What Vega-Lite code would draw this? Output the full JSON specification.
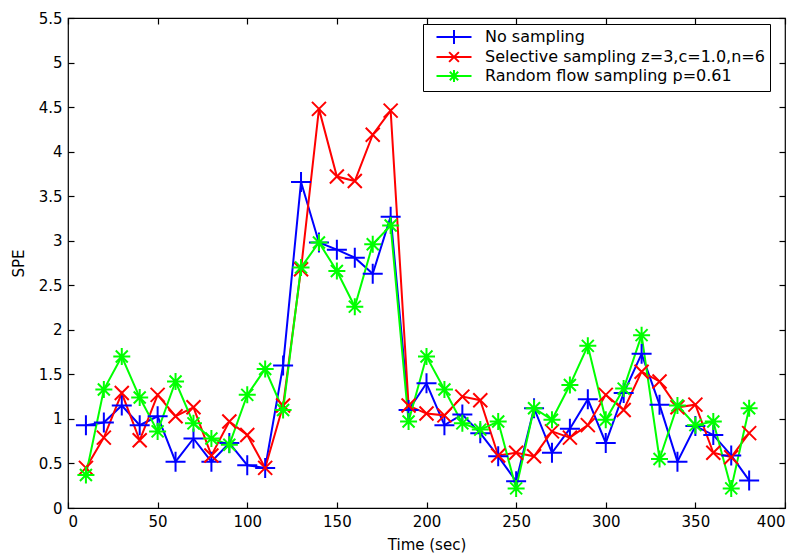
{
  "$schema": "https://vega.github.io/schema/vega-lite/v6.json",
  "width": 717,
  "height": 490,
  "autosize": {"type": "none"},
  "padding": {"left": 68, "top": 18, "right": 18, "bottom": 45},
  "background": "white",
  "config": {
    "font": "DejaVu Sans",
    "view": {"stroke": "black", "strokeWidth": 1.2},
    "axis": {
      "grid": false,
      "domain": false,
      "offset": -6,
      "tickColor": "black",
      "tickWidth": 1.2,
      "labelColor": "black",
      "titleColor": "black",
      "labelFontSize": 15,
      "titleFontSize": 15,
      "titleFontWeight": "normal",
      "tickSize": 6,
      "labelPadding": 6,
      "zindex": 1
    }
  },
  "datasets": {
    "spe": [
      {"t": 10, "s": "No sampling", "v": 0.93}, {"t": 20, "s": "No sampling", "v": 0.96}, {"t": 30, "s": "No sampling", "v": 1.15}, {"t": 40, "s": "No sampling", "v": 0.93}, {"t": 50, "s": "No sampling", "v": 1.03}, {"t": 60, "s": "No sampling", "v": 0.52}, {"t": 70, "s": "No sampling", "v": 0.78}, {"t": 80, "s": "No sampling", "v": 0.52}, {"t": 90, "s": "No sampling", "v": 0.73}, {"t": 100, "s": "No sampling", "v": 0.48}, {"t": 110, "s": "No sampling", "v": 0.45}, {"t": 120, "s": "No sampling", "v": 1.6}, {"t": 130, "s": "No sampling", "v": 3.66}, {"t": 140, "s": "No sampling", "v": 2.98}, {"t": 150, "s": "No sampling", "v": 2.9}, {"t": 160, "s": "No sampling", "v": 2.81}, {"t": 170, "s": "No sampling", "v": 2.63}, {"t": 180, "s": "No sampling", "v": 3.27}, {"t": 190, "s": "No sampling", "v": 1.1}, {"t": 200, "s": "No sampling", "v": 1.4}, {"t": 210, "s": "No sampling", "v": 0.93}, {"t": 220, "s": "No sampling", "v": 1.05}, {"t": 230, "s": "No sampling", "v": 0.84}, {"t": 240, "s": "No sampling", "v": 0.58}, {"t": 250, "s": "No sampling", "v": 0.3}, {"t": 260, "s": "No sampling", "v": 1.12}, {"t": 270, "s": "No sampling", "v": 0.62}, {"t": 280, "s": "No sampling", "v": 0.89}, {"t": 290, "s": "No sampling", "v": 1.22}, {"t": 300, "s": "No sampling", "v": 0.73}, {"t": 310, "s": "No sampling", "v": 1.29}, {"t": 320, "s": "No sampling", "v": 1.73}, {"t": 330, "s": "No sampling", "v": 1.16}, {"t": 340, "s": "No sampling", "v": 0.52}, {"t": 350, "s": "No sampling", "v": 0.92}, {"t": 360, "s": "No sampling", "v": 0.82}, {"t": 370, "s": "No sampling", "v": 0.59}, {"t": 380, "s": "No sampling", "v": 0.31},
      {"t": 10, "s": "Selective sampling z=3,c=1.0,n=6", "v": 0.45}, {"t": 20, "s": "Selective sampling z=3,c=1.0,n=6", "v": 0.79}, {"t": 30, "s": "Selective sampling z=3,c=1.0,n=6", "v": 1.29}, {"t": 40, "s": "Selective sampling z=3,c=1.0,n=6", "v": 0.76}, {"t": 50, "s": "Selective sampling z=3,c=1.0,n=6", "v": 1.27}, {"t": 60, "s": "Selective sampling z=3,c=1.0,n=6", "v": 1.03}, {"t": 70, "s": "Selective sampling z=3,c=1.0,n=6", "v": 1.13}, {"t": 80, "s": "Selective sampling z=3,c=1.0,n=6", "v": 0.59}, {"t": 90, "s": "Selective sampling z=3,c=1.0,n=6", "v": 0.97}, {"t": 100, "s": "Selective sampling z=3,c=1.0,n=6", "v": 0.82}, {"t": 110, "s": "Selective sampling z=3,c=1.0,n=6", "v": 0.45}, {"t": 120, "s": "Selective sampling z=3,c=1.0,n=6", "v": 1.15}, {"t": 130, "s": "Selective sampling z=3,c=1.0,n=6", "v": 2.68}, {"t": 140, "s": "Selective sampling z=3,c=1.0,n=6", "v": 4.48}, {"t": 150, "s": "Selective sampling z=3,c=1.0,n=6", "v": 3.72}, {"t": 160, "s": "Selective sampling z=3,c=1.0,n=6", "v": 3.67}, {"t": 170, "s": "Selective sampling z=3,c=1.0,n=6", "v": 4.19}, {"t": 180, "s": "Selective sampling z=3,c=1.0,n=6", "v": 4.46}, {"t": 190, "s": "Selective sampling z=3,c=1.0,n=6", "v": 1.15}, {"t": 200, "s": "Selective sampling z=3,c=1.0,n=6", "v": 1.06}, {"t": 210, "s": "Selective sampling z=3,c=1.0,n=6", "v": 1.04}, {"t": 220, "s": "Selective sampling z=3,c=1.0,n=6", "v": 1.25}, {"t": 230, "s": "Selective sampling z=3,c=1.0,n=6", "v": 1.21}, {"t": 240, "s": "Selective sampling z=3,c=1.0,n=6", "v": 0.59}, {"t": 250, "s": "Selective sampling z=3,c=1.0,n=6", "v": 0.62}, {"t": 260, "s": "Selective sampling z=3,c=1.0,n=6", "v": 0.58}, {"t": 270, "s": "Selective sampling z=3,c=1.0,n=6", "v": 0.86}, {"t": 280, "s": "Selective sampling z=3,c=1.0,n=6", "v": 0.79}, {"t": 290, "s": "Selective sampling z=3,c=1.0,n=6", "v": 0.93}, {"t": 300, "s": "Selective sampling z=3,c=1.0,n=6", "v": 1.27}, {"t": 310, "s": "Selective sampling z=3,c=1.0,n=6", "v": 1.1}, {"t": 320, "s": "Selective sampling z=3,c=1.0,n=6", "v": 1.53}, {"t": 330, "s": "Selective sampling z=3,c=1.0,n=6", "v": 1.42}, {"t": 340, "s": "Selective sampling z=3,c=1.0,n=6", "v": 1.13}, {"t": 350, "s": "Selective sampling z=3,c=1.0,n=6", "v": 1.16}, {"t": 360, "s": "Selective sampling z=3,c=1.0,n=6", "v": 0.62}, {"t": 370, "s": "Selective sampling z=3,c=1.0,n=6", "v": 0.57}, {"t": 380, "s": "Selective sampling z=3,c=1.0,n=6", "v": 0.84},
      {"t": 10, "s": "Random flow sampling p=0.61", "v": 0.37}, {"t": 20, "s": "Random flow sampling p=0.61", "v": 1.33}, {"t": 30, "s": "Random flow sampling p=0.61", "v": 1.7}, {"t": 40, "s": "Random flow sampling p=0.61", "v": 1.24}, {"t": 50, "s": "Random flow sampling p=0.61", "v": 0.86}, {"t": 60, "s": "Random flow sampling p=0.61", "v": 1.42}, {"t": 70, "s": "Random flow sampling p=0.61", "v": 0.95}, {"t": 80, "s": "Random flow sampling p=0.61", "v": 0.78}, {"t": 90, "s": "Random flow sampling p=0.61", "v": 0.71}, {"t": 100, "s": "Random flow sampling p=0.61", "v": 1.27}, {"t": 110, "s": "Random flow sampling p=0.61", "v": 1.56}, {"t": 120, "s": "Random flow sampling p=0.61", "v": 1.1}, {"t": 130, "s": "Random flow sampling p=0.61", "v": 2.7}, {"t": 140, "s": "Random flow sampling p=0.61", "v": 2.98}, {"t": 150, "s": "Random flow sampling p=0.61", "v": 2.66}, {"t": 160, "s": "Random flow sampling p=0.61", "v": 2.26}, {"t": 170, "s": "Random flow sampling p=0.61", "v": 2.96}, {"t": 180, "s": "Random flow sampling p=0.61", "v": 3.17}, {"t": 190, "s": "Random flow sampling p=0.61", "v": 0.97}, {"t": 200, "s": "Random flow sampling p=0.61", "v": 1.7}, {"t": 210, "s": "Random flow sampling p=0.61", "v": 1.33}, {"t": 220, "s": "Random flow sampling p=0.61", "v": 0.95}, {"t": 230, "s": "Random flow sampling p=0.61", "v": 0.88}, {"t": 240, "s": "Random flow sampling p=0.61", "v": 0.97}, {"t": 250, "s": "Random flow sampling p=0.61", "v": 0.22}, {"t": 260, "s": "Random flow sampling p=0.61", "v": 1.12}, {"t": 270, "s": "Random flow sampling p=0.61", "v": 0.99}, {"t": 280, "s": "Random flow sampling p=0.61", "v": 1.38}, {"t": 290, "s": "Random flow sampling p=0.61", "v": 1.82}, {"t": 300, "s": "Random flow sampling p=0.61", "v": 0.99}, {"t": 310, "s": "Random flow sampling p=0.61", "v": 1.34}, {"t": 320, "s": "Random flow sampling p=0.61", "v": 1.94}, {"t": 330, "s": "Random flow sampling p=0.61", "v": 0.55}, {"t": 340, "s": "Random flow sampling p=0.61", "v": 1.15}, {"t": 350, "s": "Random flow sampling p=0.61", "v": 0.93}, {"t": 360, "s": "Random flow sampling p=0.61", "v": 0.97}, {"t": 370, "s": "Random flow sampling p=0.61", "v": 0.22}, {"t": 380, "s": "Random flow sampling p=0.61", "v": 1.12}
    ]
  },
  "data": {"name": "spe"},
  "resolve": {"axis": {"x": "independent", "y": "independent"}},
  "layer": [
    {
      "mark": {"type": "line", "strokeWidth": 2},
      "encoding": {
        "x": {"field": "t", "type": "quantitative", "scale": {"domain": [0, 400], "nice": false}, "axis": {"title": "Time (sec)", "values": [0, 50, 100, 150, 200, 250, 300, 350, 400], "titlePadding": 8}},
        "y": {"field": "v", "type": "quantitative", "scale": {"domain": [0, 5.5], "nice": false}, "axis": {"title": "SPE", "format": "~g", "values": [0, 0.5, 1, 1.5, 2, 2.5, 3, 3.5, 4, 4.5, 5, 5.5], "titlePadding": 12}},
        "color": {"field": "s", "type": "nominal", "scale": {"domain": ["No sampling", "Selective sampling z=3,c=1.0,n=6", "Random flow sampling p=0.61"], "range": ["#0000ff", "#ff0000", "#00ff00"]}, "legend": {
          "orient": "none", "legendX": 355, "legendY": 6, "title": null,
          "strokeColor": "black", "fillColor": "white", "padding": 5,
          "labelFontSize": 16, "labelColor": "black", "labelLimit": 500, "labelExpr": "datum.label + '\u00a0\u00a0'",
          "symbolSize": 196, "symbolStrokeWidth": 2,
          "symbolOffset": 18, "labelOffset": 23, "rowPadding": 0
        }},
        "order": {"field": "t"}
      }
    },
    {
      "transform": [{"filter": "datum.s == 'No sampling'"}],
      "mark": {"type": "point", "filled": false, "strokeWidth": 2, "opacity": 1, "size": 400, "shape": "M-1,0H1M0,-1V1"},
      "encoding": {
        "x": {"field": "t", "type": "quantitative", "axis": {"orient": "top", "labels": false, "title": null, "values": [0, 50, 100, 150, 200, 250, 300, 350, 400]}},
        "y": {"field": "v", "type": "quantitative", "axis": {"orient": "right", "labels": false, "title": null, "values": [0, 0.5, 1, 1.5, 2, 2.5, 3, 3.5, 4, 4.5, 5, 5.5]}},
        "color": {"field": "s", "type": "nominal"}
      }
    },
    {
      "transform": [{"filter": "datum.s == 'Selective sampling z=3,c=1.0,n=6'"}],
      "mark": {"type": "point", "filled": false, "strokeWidth": 2, "opacity": 1, "size": 400, "shape": "M-0.7,-0.7L0.7,0.7M-0.7,0.7L0.7,-0.7"},
      "encoding": {
        "x": {"field": "t", "type": "quantitative", "axis": null},
        "y": {"field": "v", "type": "quantitative", "axis": null},
        "color": {"field": "s", "type": "nominal"}
      }
    },
    {
      "transform": [{"filter": "datum.s == 'Random flow sampling p=0.61'"}],
      "mark": {"type": "point", "filled": false, "strokeWidth": 2, "opacity": 1, "size": 400, "shape": "M-0.85,0H0.85M0,-0.85V0.85M-0.6,-0.6L0.6,0.6M-0.6,0.6L0.6,-0.6"},
      "encoding": {
        "x": {"field": "t", "type": "quantitative", "axis": null},
        "y": {"field": "v", "type": "quantitative", "axis": null},
        "color": {"field": "s", "type": "nominal"}
      }
    },
    {
      "transform": [{"filter": "datum.t < 0"}],
      "mark": {"type": "point", "filled": false, "strokeWidth": 2},
      "encoding": {
        "x": {"field": "t", "type": "quantitative", "axis": null},
        "y": {"field": "v", "type": "quantitative", "axis": null},
        "color": {"field": "s", "type": "nominal"},
        "shape": {"field": "s", "type": "nominal", "scale": {"domain": ["No sampling", "Selective sampling z=3,c=1.0,n=6", "Random flow sampling p=0.61"], "range": ["M-2.5,0H2.5M0,-1V1", "M-2.5,0H2.5M-0.7,-0.7L0.7,0.7M-0.7,0.7L0.7,-0.7", "M-2.5,0H2.5M0,-0.85V0.85M-0.6,-0.6L0.6,0.6M-0.6,0.6L0.6,-0.6"]}}
      }
    }
  ]
}
